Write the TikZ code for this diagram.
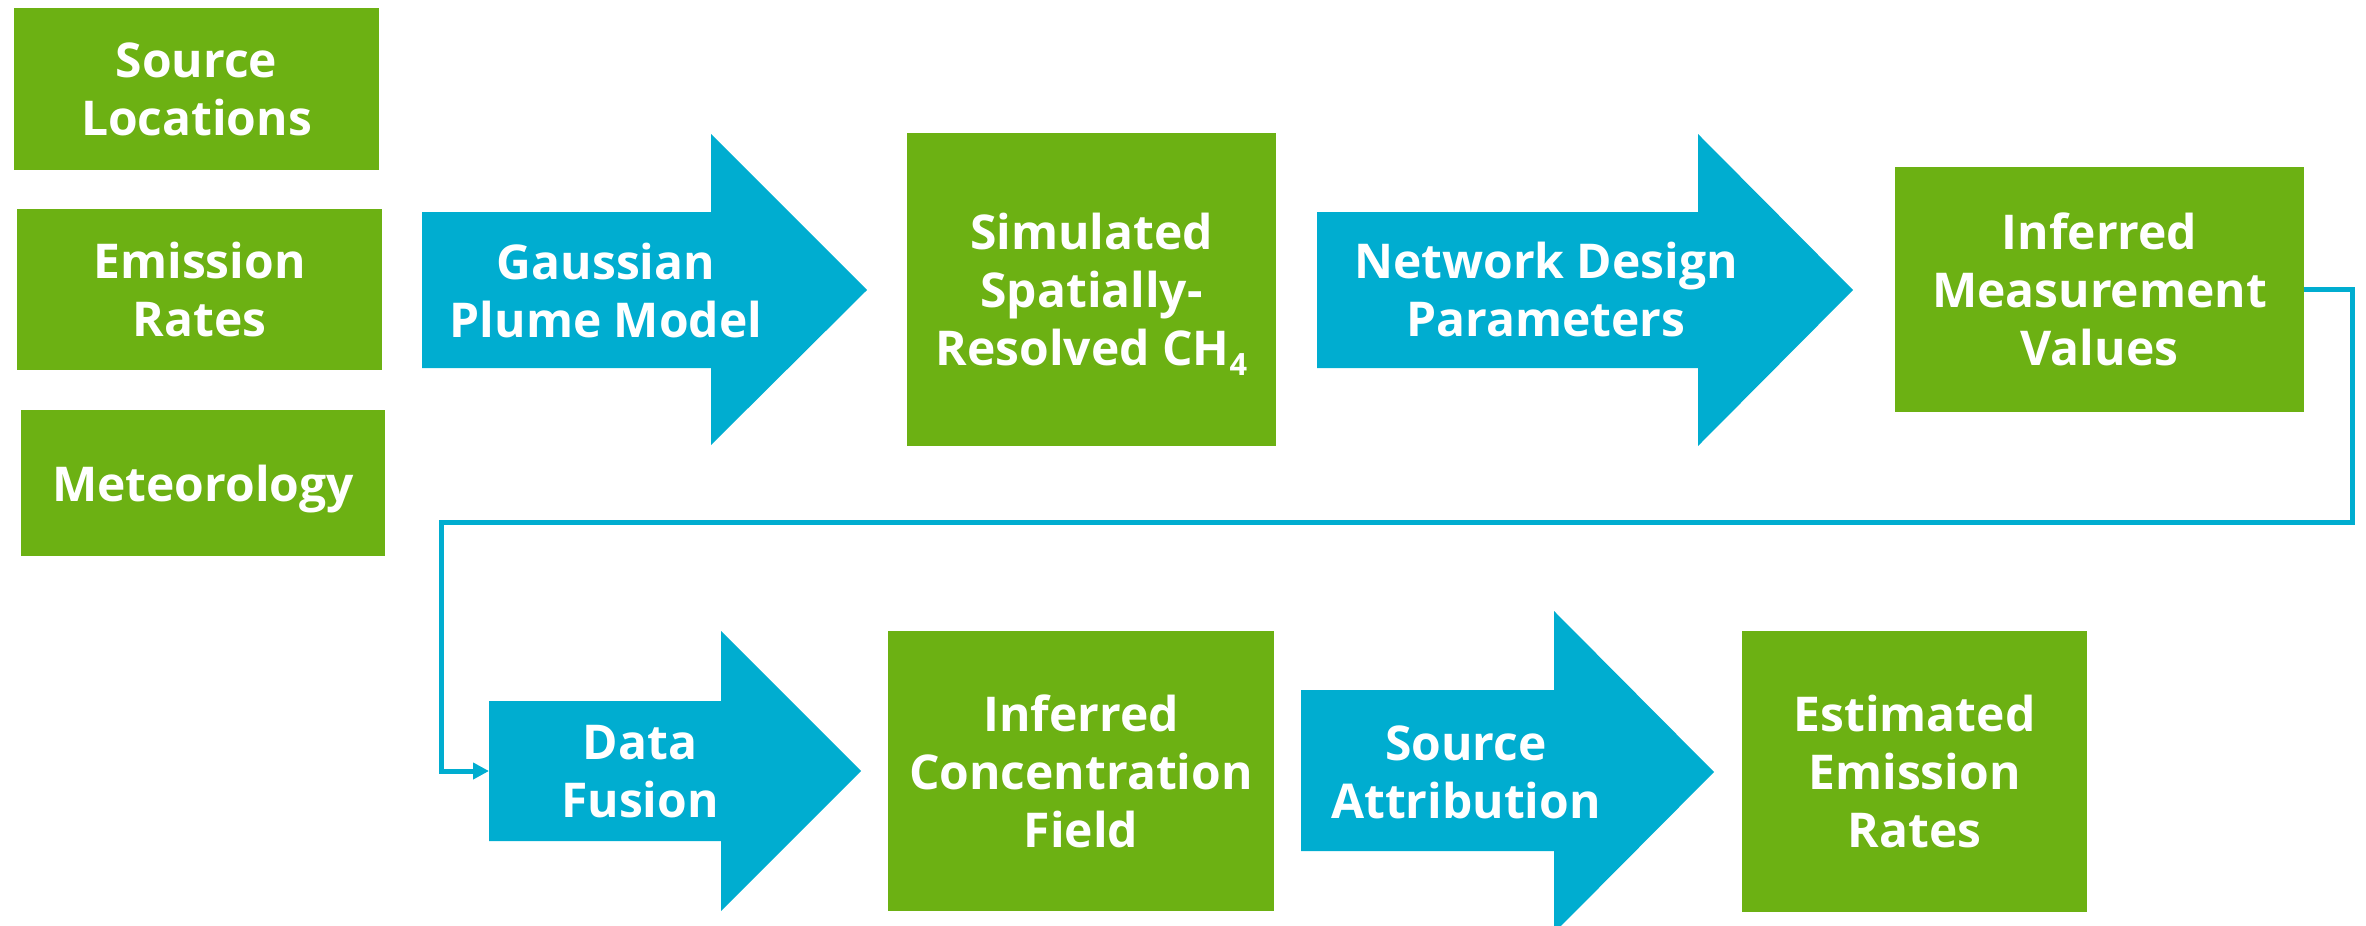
\documentclass[tikz,border=0pt]{standalone}
\usepackage{fontspec}
\setmainfont{Open Sans}[BoldFont={* Bold}]
\usetikzlibrary{arrows.meta}
\definecolor{gfill}{RGB}{108,177,19}
\definecolor{bfill}{RGB}{0,173,208}
\newcommand{\lbl}{\fontsize{27.3pt}{33pt}\selectfont\bfseries}
\newcommand{\subfour}{\raisebox{-0.2em}{\fontsize{17.5pt}{20pt}\selectfont 4}}
\tikzset{
  gbox/.style={fill=gfill, draw=none, text=white, align=center, inner sep=0pt, font=\lbl},
  btext/.style={text=white, align=center, inner sep=0pt, font=\lbl},
  barrow/.style={fill=bfill, draw=none},
  loopline/.style={draw=bfill, line width=0.1cm, -{Triangle[length=0.32cm,width=0.32cm]}}
}
\begin{document}
\begin{tikzpicture}[x=0.02cm, y=-0.02cm]
\useasboundingbox (0,0) rectangle (2366,926);
% arrows (shapes)
\fill[barrow] (422,212) -- (711,212) -- (711,134) -- (867,290) -- (711,445) -- (711,368) -- (422,368) -- cycle;
\fill[barrow] (1317,212) -- (1698,212) -- (1698,134) -- (1853,290) -- (1698,446) -- (1698,368) -- (1317,368) -- cycle;
\fill[barrow] (489,701) -- (721,701) -- (721,631) -- (861,771) -- (721,911) -- (721,841) -- (489,841) -- cycle;
\fill[barrow] (1301,690) -- (1554,690) -- (1554,611) -- (1714,772) -- (1554,933) -- (1554,851) -- (1301,851) -- cycle;
% arrow labels
\node[btext] (gpm) at (606,291) {Gaussian\\Plume Model};
\node[btext] (ndp) at (1546,290) {Network Design\\Parameters};
\node[btext] (df) at (640,772) {Data\\Fusion};
\node[btext] (sa) at (1466,772) {Source\\Attribution};
% green boxes
\node[gbox, minimum width=7.30cm, minimum height=3.24cm] (sl) at (196.5,89) {Source\\Locations};
\node[gbox, minimum width=7.30cm, minimum height=3.22cm] (er) at (199.5,289.5) {Emission\\Rates};
\node[gbox, minimum width=7.28cm, minimum height=2.92cm, text depth=0pt] (met) at (203,483) {Meteorology};
\node[gbox, minimum width=7.38cm, minimum height=6.26cm, text depth=0pt] (sim) at (1091.5,289.5) {Simulated\\Spatially-\\Resolved CH\subfour};
\node[gbox, minimum width=8.18cm, minimum height=4.90cm] (imv) at (2099.5,289.5) {Inferred\\Measurement\\Values};
\node[gbox, minimum width=7.72cm, minimum height=5.60cm] (icf) at (1081,771) {Inferred\\Concentration\\Field};
\node[gbox, minimum width=6.90cm, minimum height=5.62cm] (eer) at (1914.5,771.5) {Estimated\\Emission\\Rates};
% loop connector
\coordinate (dfin) at (489,771);
\draw[loopline] (imv.east) -- (2352,289.5) -- (2352,522) -- (441,522) -- (441,771) -- (dfin);
\end{tikzpicture}
\end{document}
